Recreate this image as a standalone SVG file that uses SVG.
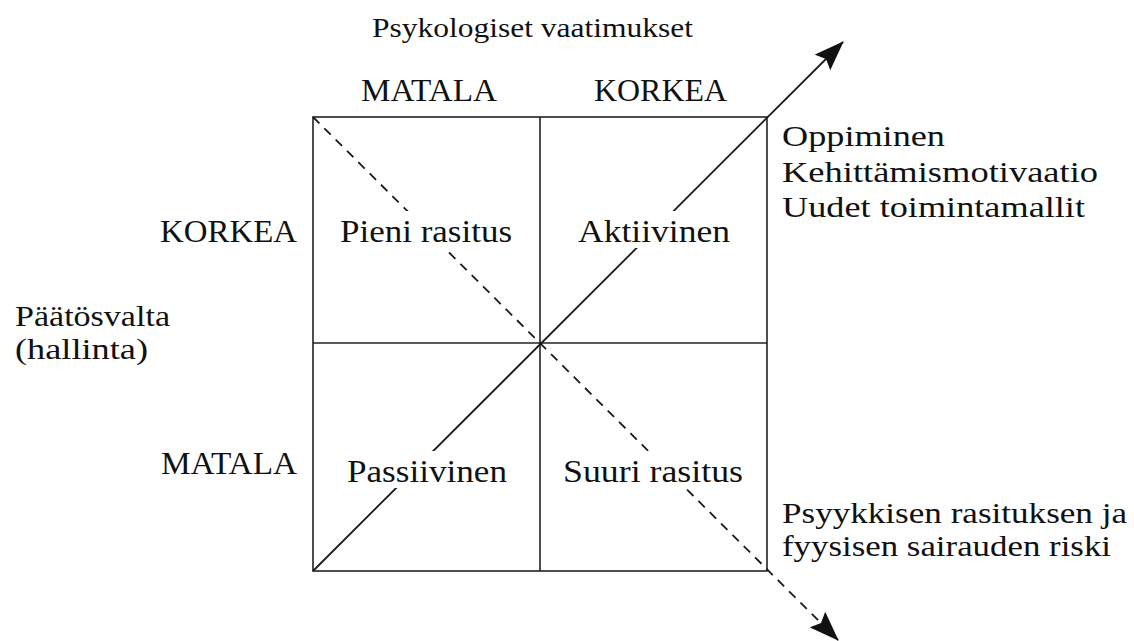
<svg xmlns="http://www.w3.org/2000/svg" width="1134" height="641" viewBox="0 0 1134 641">
  <style>
    text { font-family: "Liberation Serif", "Times New Roman", serif; fill: #111; }
    .lbl { font-size: 32px; }
    .multi { font-size: 30px; }
    .head { font-size: 28px; }
    .grid { fill: none; stroke: #222; stroke-width: 1.6; }
    .axis { fill: none; stroke: #1a1a1a; stroke-width: 1.8; }
    .dash { stroke-dasharray: 9 7; }
    .pad { fill: #fff; }
  </style>
  <defs>
    <marker id="head" viewBox="0 0 30 22" refX="29" refY="11" markerWidth="30" markerHeight="22" markerUnits="userSpaceOnUse" orient="auto">
      <path d="M0,0 L30,11 L0,22 L5,11 Z" fill="#111"/>
    </marker>
  </defs>

  <rect width="1134" height="641" fill="#fff"/>

  <!-- 2x2 grid -->
  <g id="grid">
    <rect class="grid" x="313" y="117" width="454" height="454"/>
    <line class="grid" x1="540" y1="117" x2="540" y2="571"/>
    <line class="grid" x1="313" y1="343" x2="767" y2="343"/>
  </g>

  <!-- diagonal arrows -->
  <g id="connectors">
    <line id="learning-axis" class="axis" x1="313" y1="571" x2="843" y2="42" marker-end="url(#head)"/>
    <line id="strain-axis" class="axis dash" x1="313" y1="117" x2="838" y2="640" marker-end="url(#head)"/>
  </g>

  <!-- axis titles -->
  <g id="demands-title">
    <text class="head" x="372" y="37" textLength="321" lengthAdjust="spacingAndGlyphs">Psykologiset vaatimukset</text>
  </g>
  <g id="demands-low">
    <text class="lbl" x="361" y="101" textLength="136" lengthAdjust="spacingAndGlyphs">MATALA</text>
  </g>
  <g id="demands-high">
    <text class="lbl" x="594" y="101" textLength="133" lengthAdjust="spacingAndGlyphs">KORKEA</text>
  </g>
  <g id="control-title">
    <text class="multi" x="15" y="326" textLength="155" lengthAdjust="spacingAndGlyphs">Päätösvalta</text>
    <text class="multi" x="15" y="359" textLength="133" lengthAdjust="spacingAndGlyphs">(hallinta)</text>
  </g>
  <g id="control-high">
    <text class="lbl" x="160" y="242" textLength="137" lengthAdjust="spacingAndGlyphs">KORKEA</text>
  </g>
  <g id="control-low">
    <text class="lbl" x="161" y="474" textLength="136" lengthAdjust="spacingAndGlyphs">MATALA</text>
  </g>

  <!-- quadrants -->
  <g id="low-strain">
    <rect class="pad" x="334" y="211" width="184" height="37"/>
    <text class="lbl" x="340" y="242" textLength="172" lengthAdjust="spacingAndGlyphs">Pieni rasitus</text>
  </g>
  <g id="active">
    <rect class="pad" x="572" y="211" width="164" height="37"/>
    <text class="lbl" x="578" y="242" textLength="152" lengthAdjust="spacingAndGlyphs">Aktiivinen</text>
  </g>
  <g id="passive">
    <rect class="pad" x="341" y="451" width="172" height="37"/>
    <text class="lbl" x="347" y="482" textLength="160" lengthAdjust="spacingAndGlyphs">Passiivinen</text>
  </g>
  <g id="high-strain">
    <rect class="pad" x="557" y="451" width="192" height="37"/>
    <text class="lbl" x="563" y="482" textLength="180" lengthAdjust="spacingAndGlyphs">Suuri rasitus</text>
  </g>

  <!-- outcomes -->
  <g id="learning-outcome">
    <text class="multi" x="782" y="146" textLength="163" lengthAdjust="spacingAndGlyphs">Oppiminen</text>
    <text class="multi" x="782" y="182" textLength="316" lengthAdjust="spacingAndGlyphs">Kehittämismotivaatio</text>
    <text class="multi" x="782" y="217" textLength="303" lengthAdjust="spacingAndGlyphs">Uudet toimintamallit</text>
  </g>
  <g id="strain-outcome">
    <text class="multi" x="782" y="523" textLength="345" lengthAdjust="spacingAndGlyphs">Psyykkisen rasituksen ja</text>
    <text class="multi" x="782" y="556" textLength="329" lengthAdjust="spacingAndGlyphs">fyysisen sairauden riski</text>
  </g>
</svg>
